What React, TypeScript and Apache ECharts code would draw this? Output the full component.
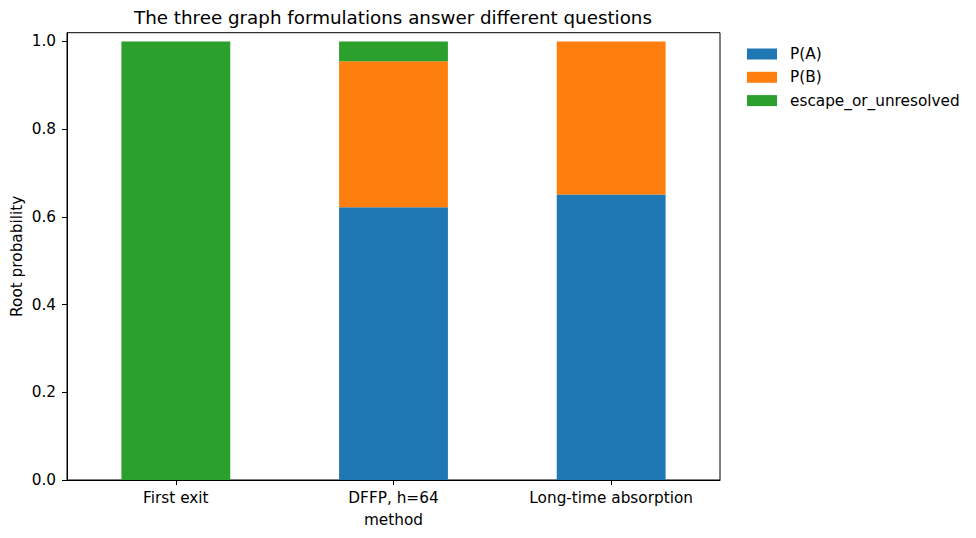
import React, { useEffect, useRef } from "react";
import * as echarts from "echarts";

const categories = ["First exit", "DFFP, h=64", "Long-time absorption"];
const seriesNames = ["P(A)", "P(B)", "escape_or_unresolved"];
const pA = [0, 0.622, 0.651];
const pB = [0, 0.333, 0.349];
const escape = [1.0, 0.045, 0];
const colors = ["#1f77b4", "#ff7f0e", "#2ca02c"];
const yTicks = [0, 0.2, 0.4, 0.6, 0.8, 1.0];

const FONT = "DejaVu Sans";
const FS = 15.3;

export default function App() {
  const ref = useRef<HTMLDivElement>(null);
  useEffect(() => {
    if (!ref.current) return;
    const chart = echarts.init(ref.current, null, { renderer: "svg" });
    const values = [pA, pB, escape];
    chart.setOption({
      animation: false,
      textStyle: { fontFamily: FONT },
      title: {
        text: "The three graph formulations answer different questions",
        left: 393,
        textAlign: "center",
        top: 8,
        padding: 0,
        textStyle: { fontFamily: FONT, fontSize: 18.3, fontWeight: "normal", color: "#000" },
      },
      legend: {
        orient: "vertical",
        left: 747,
        top: 46.5,
        padding: 0,
        itemWidth: 30,
        itemHeight: 11,
        itemGap: 8.3,
        icon: "rect",
        data: seriesNames,
        textStyle: { fontFamily: FONT, fontSize: FS, color: "#000", padding: [0, 0, 0, 8] },
      },
      grid: {
        left: 67,
        right: 256,
        top: 32.7,
        bottom: 58,
        show: true,
        borderColor: "#000",
        borderWidth: 1,
        backgroundColor: "transparent",
        containLabel: false,
        outerBoundsMode: "none",
      },
      xAxis: {
        type: "category",
        data: categories,
        name: "method",
        nameLocation: "middle",
        nameGap: 32,
        nameMoveOverlap: false,
        nameTextStyle: { fontFamily: FONT, fontSize: FS, color: "#000" },
        axisLine: { show: true, lineStyle: { color: "#000", width: 1 } },
        axisTick: { show: true, alignWithLabel: true, length: 5, lineStyle: { color: "#000" } },
        axisLabel: { fontFamily: FONT, fontSize: FS, color: "#000", margin: 10 },
        splitLine: { show: false },
      },
      yAxis: {
        type: "value",
        min: 0,
        max: 1.02,
        interval: 0.2,
        name: "Root probability",
        nameLocation: "middle",
        nameGap: 43,
        nameMoveOverlap: false,
        nameTextStyle: { fontFamily: FONT, fontSize: FS, color: "#000" },
        axisLine: { show: true, lineStyle: { color: "#000", width: 1 } },
        axisTick: { show: true, length: 5, lineStyle: { color: "#000" } },
        axisLabel: {
          fontFamily: FONT,
          fontSize: FS,
          color: "#000",
          margin: 11,
          showMaxLabel: false,
          formatter: (v: number) => {
            const t = yTicks.find((x) => Math.abs(x - v) < 1e-9);
            return t === undefined ? "" : t.toFixed(1);
          },
        },
        splitLine: { show: false },
      },
      series: seriesNames.map((name, i) => ({
        name,
        type: "bar",
        stack: "total",
        barWidth: "50%",
        data: values[i],
        itemStyle: { color: colors[i] },
      })),
    });
    return () => chart.dispose();
  }, []);
  return <div ref={ref} style={{ width: 976, height: 538, margin: -8 }} />;
}
